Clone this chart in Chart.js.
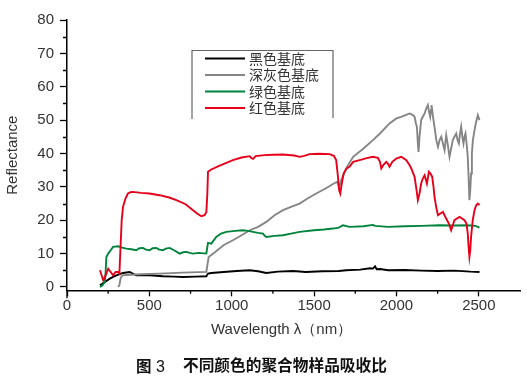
<!DOCTYPE html>
<html><head><meta charset="utf-8">
<script src="https://cdn.jsdelivr.net/npm/chart.js@4/dist/chart.umd.min.js"></script>
<style>
html,body{margin:0;padding:0;background:#fff;}
#wrap{position:relative;width:527px;height:389px;overflow:hidden;}
canvas{position:absolute;left:0;top:0;}
.t{position:absolute;white-space:nowrap;line-height:16px;}
</style></head><body>
<div id="wrap">
<canvas id="c" width="527" height="389"></canvas>
<div class="t" style="left:211px;top:321px;font-family:'Liberation Sans',Arial,sans-serif;font-size:15px;color:#333;">Wavelength λ（nm）</div>
<div class="t" style="left:136px;top:357px;font-family:'Noto Sans CJK SC',sans-serif;font-size:15.5px;font-weight:bold;color:#111;">图</div>
<div class="t" style="left:156px;top:359px;font-family:'Liberation Sans',Arial,sans-serif;font-size:16px;color:#111;">3</div>
<div class="t" style="left:183px;top:357px;font-family:'Noto Sans CJK SC',sans-serif;font-size:15.7px;font-weight:bold;color:#111;">不同颜色的聚合物样品吸收比</div>
</div>
<script>
// ---- data (wavelength nm, reflectance) ----
const seriesNames = ['黑色基底','深灰色基底','绿色基底','红色基底'];
const xTickValues = [0,500,1000,1500,2000,2500];
const yTickValues = [0,10,20,30,40,50,60,70,80];

const blackX = [200,230,260,280,310,340,380,420,460,501,582,650,704,780,846,856,876,950,1030,1109,1160,1210,1280,1372,1450,1550,1650,1695,1780,1840,1857,1870,1880,1900,1950,2050,2150,2250,2350,2450,2504];
const blackY = [0.5,1.5,2.5,3,3.7,4.2,4.5,3.5,3.6,3.5,3.2,3.1,3,3.1,3.2,4,4.2,4.5,4.8,5,4.7,4.2,4.6,4.8,4.5,4.7,4.8,5,5.2,5.6,5.5,6.2,5.3,5.4,5.0,5.1,4.9,4.8,4.9,4.6,4.5];

const grayX = [310,318,325,335,360,450,562,700,846,852,860,900,950,1007,1060,1110,1160,1210,1260,1311,1360,1412,1460,1513,1570,1620,1640,1652,1665,1700,1737,1800,1857,1900,1958,2000,2029,2055,2080,2100,2110,2118,2124,2130,2134,2140,2150,2160,2171,2181,2191,2198,2205,2210,2213,2222,2231,2242,2252,2262,2272,2282,2292,2302,2312,2322,2332,2342,2352,2363,2371,2379,2386,2393,2400,2407,2413,2419,2426,2433,2438,2443,2448,2453,2458,2464,2474,2484,2494,2504];
const grayY = [0,0.5,2.5,3.5,3.6,3.8,4.0,4.3,4.5,6.5,9,10.5,12.5,14,15.5,17,18,19.5,21.5,23,24,25,26.5,28,29.5,31,31.5,30,32,36,39,41.5,44,46,49,50.5,51,51.5,52,51.5,51,49,48,43,40.5,45,50,51,52,53.5,54.5,52.5,51,53,54.5,51,48,44,42,44,45,43,41,45.5,42.5,39,41.5,44,45,46,44,43,46,48,45,43,45,46,43,39,33,26,29,34,40,44,47,49.5,51.5,50];

const greenX = [200,215,230,235,239,250,265,280,310,335,360,390,420,440,461,480,501,520,542,560,582,600,623,650,684,705,724,745,765,800,846,852,856,876,906,935,967,1020,1068,1100,1129,1160,1190,1200,1210,1260,1311,1360,1412,1500,1560,1614,1650,1675,1715,1800,1857,1870,1950,2050,2150,2262,2350,2430,2480,2504];
const greenY = [0,0.5,1.5,5,9,10,11,12,12.2,11.8,11.5,11.3,11,11.6,11.7,11.2,11,11.6,11.7,11.2,11,11.5,11.7,11,10,10.4,10.5,10.2,10,10.2,10,12,13.2,13,15,16,16.5,16.8,17,16.8,16.5,16.2,16,15.3,15,15.3,15.5,16,16.5,17,17.2,17.5,17.8,18.5,18,18.2,18.6,18.3,18,18.2,18.3,18.5,18.4,18.5,18.3,17.8];

const redX = [200,210,220,235,250,265,280,295,310,318,325,332,340,355,370,385,400,450,500,562,620,664,720,765,790,815,835,846,852,856,876,920,960,1007,1060,1109,1120,1130,1145,1200,1250,1311,1380,1412,1440,1473,1530,1594,1620,1634,1645,1652,1659,1665,1679,1697,1715,1737,1776,1820,1857,1887,1900,1908,1920,1938,1948,1958,1975,1999,2029,2060,2080,2090,2110,2122,2130,2140,2150,2160,2171,2185,2197,2207,2217,2225,2231,2241,2252,2267,2282,2292,2302,2318,2332,2342,2352,2367,2383,2398,2413,2425,2433,2438,2443,2448,2453,2463,2474,2484,2494,2504];
const redY = [5.0,3.5,2.0,3.5,5.5,4.5,3.5,4.5,4.5,4.0,12,20,24,26.5,28,28.4,28.5,28.2,28.0,27.5,26.8,26.0,24.8,23.0,22.0,21.2,21.5,22.5,28,34.5,35.2,36.2,37,38,38.8,39.2,38.6,38.4,39.2,39.5,39.6,39.7,39.4,39.0,39.3,39.8,39.9,39.8,39.3,38.0,33,29,28,30,34,35.5,36,37.5,38,38.6,39,38.7,37.5,35.5,36.5,37.5,37,36,37.5,38.5,39,38,36.5,35.5,33,29,26,28,31,32.5,33.5,31,34.5,34,33,30,27,24,21.5,22,22.5,21.5,20.5,19,17,18.5,20,20.5,21,20.5,20,19,16,12,9,11,15,20,23,24.5,25,24.5];

const seriesColors = ['#000000','#858585','#00843d','#e6001a'];

function pts(xs, ys){ return xs.map((x,i)=>({x:x,y:ys[i]})); }

const chartBottomPx = 290.3;

const decor = {
  id:'decor',
  afterDraw(chart){
    const ctx = chart.ctx, xs = chart.scales.x, ys = chart.scales.y;
    const L = chart.chartArea.left, B = chart.chartArea.bottom;
    ctx.save();
    ctx.strokeStyle = '#000'; ctx.lineWidth = 1.3;
    ctx.beginPath();
    for (let v=5; v<80; v+=10){ const p = Math.round(ys.getPixelForValue(v))+0.5; ctx.moveTo(L-4,p); ctx.lineTo(L,p); }
    for (let v=250; v<2750; v+=500){ const p = xs.getPixelForValue(v); ctx.moveTo(p,B); ctx.lineTo(p,B+3.5); }
    ctx.moveTo(L,B); ctx.lineTo(L,B+8);
    ctx.stroke();
    // legend
    ctx.strokeStyle = '#666'; ctx.lineWidth = 1.2;
    ctx.beginPath(); ctx.moveTo(192,119); ctx.lineTo(192,50.5); ctx.lineTo(333,50.5); ctx.lineTo(333,118); ctx.stroke();
    const rows = [58.5,75,91.5,108];
    ctx.font = "14px 'Noto Sans CJK SC', sans-serif";
    ctx.textBaseline = 'middle'; ctx.textAlign = 'left';
    chart.data.datasets.forEach((ds,i)=>{
      ctx.strokeStyle = ds.borderColor; ctx.lineWidth = 2;
      ctx.beginPath(); ctx.moveTo(205,rows[i]); ctx.lineTo(245,rows[i]); ctx.stroke();
      ctx.fillStyle = '#333';
      ctx.fillText(ds.label, 249, rows[i]);
    });
    ctx.restore();
  }
};

new Chart(document.getElementById('c'), {
  type:'line',
  data:{ datasets:[
    {label:seriesNames[0], data:pts(blackX,blackY), borderColor:seriesColors[0], order:4},
    {label:seriesNames[1], data:pts(grayX,grayY), borderColor:seriesColors[1], order:3},
    {label:seriesNames[2], data:pts(greenX,greenY), borderColor:seriesColors[2], order:2},
    {label:seriesNames[3], data:pts(redX,redY), borderColor:seriesColors[3], order:1}
  ]},
  options:{
    responsive:false, devicePixelRatio:1, animation:false,
    elements:{ point:{radius:0}, line:{borderWidth:1.9, tension:0, fill:false} },
    layout:{ padding:{top:20, right:7, left:0, bottom:0} },
    plugins:{ legend:{display:false}, tooltip:{enabled:false} },
    scales:{
      x:{ type:'linear', min:0, max:2750,
        afterBuildTicks(s){ s.ticks = xTickValues.map(v=>({value:v})); },
        afterFit(s){ s.height = 389 - chartBottomPx; },
        grid:{ drawOnChartArea:false, drawTicks:true, tickLength:6, color:'#000', tickWidth:1.3 },
        border:{ display:true, color:'#000', width:1.5 },
        ticks:{ font:{family:"'Liberation Sans', Arial, sans-serif", size:15}, color:'#333', padding:1, maxRotation:0, autoSkip:false, callback:v=>String(v) }
      },
      y:{ type:'linear', min:-1, max:80,
        afterBuildTicks(s){ s.ticks = yTickValues.map(v=>({value:v})); },
        afterFit(s){ s.width = 67; },
        grid:{ drawOnChartArea:false, drawTicks:true, tickLength:7, color:'#000', tickWidth:1.3 },
        border:{ display:true, color:'#000', width:1.5 },
        ticks:{ font:{family:"'Liberation Sans', Arial, sans-serif", size:15}, color:'#333', padding:6, autoSkip:false, callback:v=>String(v) },
        title:{ display:true, text:'Reflectance', font:{family:"'Liberation Sans', Arial, sans-serif", size:15}, color:'#333', padding:{top:4,bottom:0} }
      }
    }
  },
  plugins:[decor]
});
</script>
</body></html>
